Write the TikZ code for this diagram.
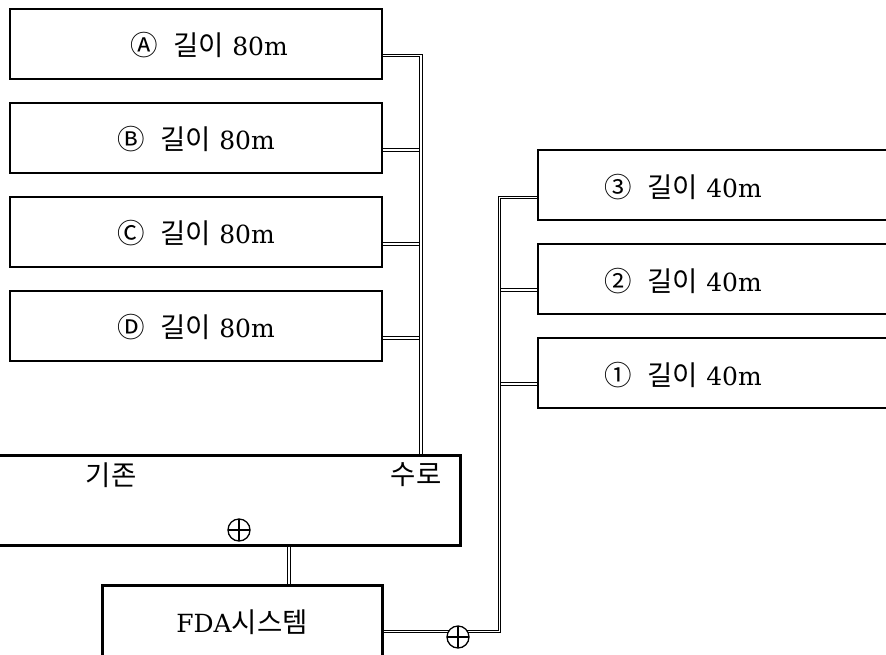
\documentclass[tikz,border=0pt]{standalone}
\usepackage{fontspec}
\setmainfont{DejaVu Serif}
\newfontfamily\kr[Scale=1.1]{Noto Sans CJK KR}
\newfontfamily\sym[Scale=1.1]{Noto Sans CJK KR}

\begin{document}
\begin{tikzpicture}[x=1pt, y=-1pt, font=\fontsize{25}{29}\selectfont]

% --- Define Styles ---
\tikzset{
    box/.style={draw, line width=2pt, minimum width=372pt, minimum height=70pt, inner sep=0pt},
    wall/.style={draw, line width=3pt, inner sep=0pt},
    pipe/.style={line width=0.8pt, double, double distance=1.8pt},
    valve/.style={draw, circle, fill=white, line width=1.3pt, minimum size=22pt, inner sep=0pt,
        path picture={\draw[line width=1.3pt]
            (path picture bounding box.north) -- (path picture bounding box.south)
            (path picture bounding box.west) -- (path picture bounding box.east);}},
    lbl/.style={inner sep=0pt}
}

\useasboundingbox (0,0) rectangle (886,654);
\clip (0,0) rectangle (886,654);

% ================= LEFT LINES (80m) =================
\node[box] (boxA) at (195.5,44) {};
\node[box] (boxB) at (195.5,138) {};
\node[box] (boxC) at (195.5,232) {};
\node[box] (boxD) at (195.5,326) {};
\node[lbl] (lblA) at (209,45) {{\sym Ⓐ}\hspace{16pt}{\kr 길이}\hspace{8pt}80m};
\node[lbl] (lblB) at (196,139) {{\sym Ⓑ}\hspace{16pt}{\kr 길이}\hspace{8pt}80m};
\node[lbl] (lblC) at (196,233) {{\sym Ⓒ}\hspace{16pt}{\kr 길이}\hspace{8pt}80m};
\node[lbl] (lblD) at (196,327) {{\sym Ⓓ}\hspace{16pt}{\kr 길이}\hspace{8pt}80m};

% ================= RIGHT LINES (40m) =================
\node[box, minimum width=380pt] (box3) at (728,185) {};
\node[box, minimum width=380pt] (box2) at (728,279) {};
\node[box, minimum width=380pt] (box1) at (728,373) {};
\node[lbl] (lbl3) at (683,187) {{\sym ③}\hspace{16pt}{\kr 길이}\hspace{8pt}40m};
\node[lbl] (lbl2) at (683,281) {{\sym ②}\hspace{16pt}{\kr 길이}\hspace{8pt}40m};
\node[lbl] (lbl1) at (683,375) {{\sym ①}\hspace{16pt}{\kr 길이}\hspace{8pt}40m};

% ================= CHANNEL + FDA =================
\node[wall, minimum width=480pt, minimum height=90pt] (chan) at (220,500) {};
\node[lbl] (lblOld) at (111,475) {\kr 기존};
\node[lbl] (lblRoute) at (416,475) {\kr 수로};
\node[wall, minimum width=280pt, minimum height=95pt] (fda) at (242,632.5) {};
\node[lbl] (lblFda) at (242,622) {FDA{\kr 시스템}};

% --- Pipes ---
\coordinate (colL) at (421,0);
\coordinate (colR) at (499.5,0);
\coordinate (drop) at (289,0);
\foreach \b in {B,C,D}
    \draw[pipe] ([yshift=-12pt]box\b.east) -- ([yshift=-12pt]box\b.east -| colL);
\draw[pipe] ([yshift=-11.5pt]boxA.east) -| (chan.north -| colL);

\foreach \b in {2,1}
    \draw[pipe] ([yshift=-11pt]box\b.west) -- ([yshift=-11pt]box\b.west -| colR);
\draw[pipe] ([yshift=1pt]fda.east) -| ([yshift=-12.5pt]box3.west -| colR) -- ([yshift=-12.5pt]box3.west);

\draw[pipe] (chan.south -| drop) -- (fda.north -| drop);

% --- Valves ---
\node[valve] (valveChan) at (239,530) {};
\node[valve] (valveFda) at (458,637) {};

\end{tikzpicture}
\end{document}
